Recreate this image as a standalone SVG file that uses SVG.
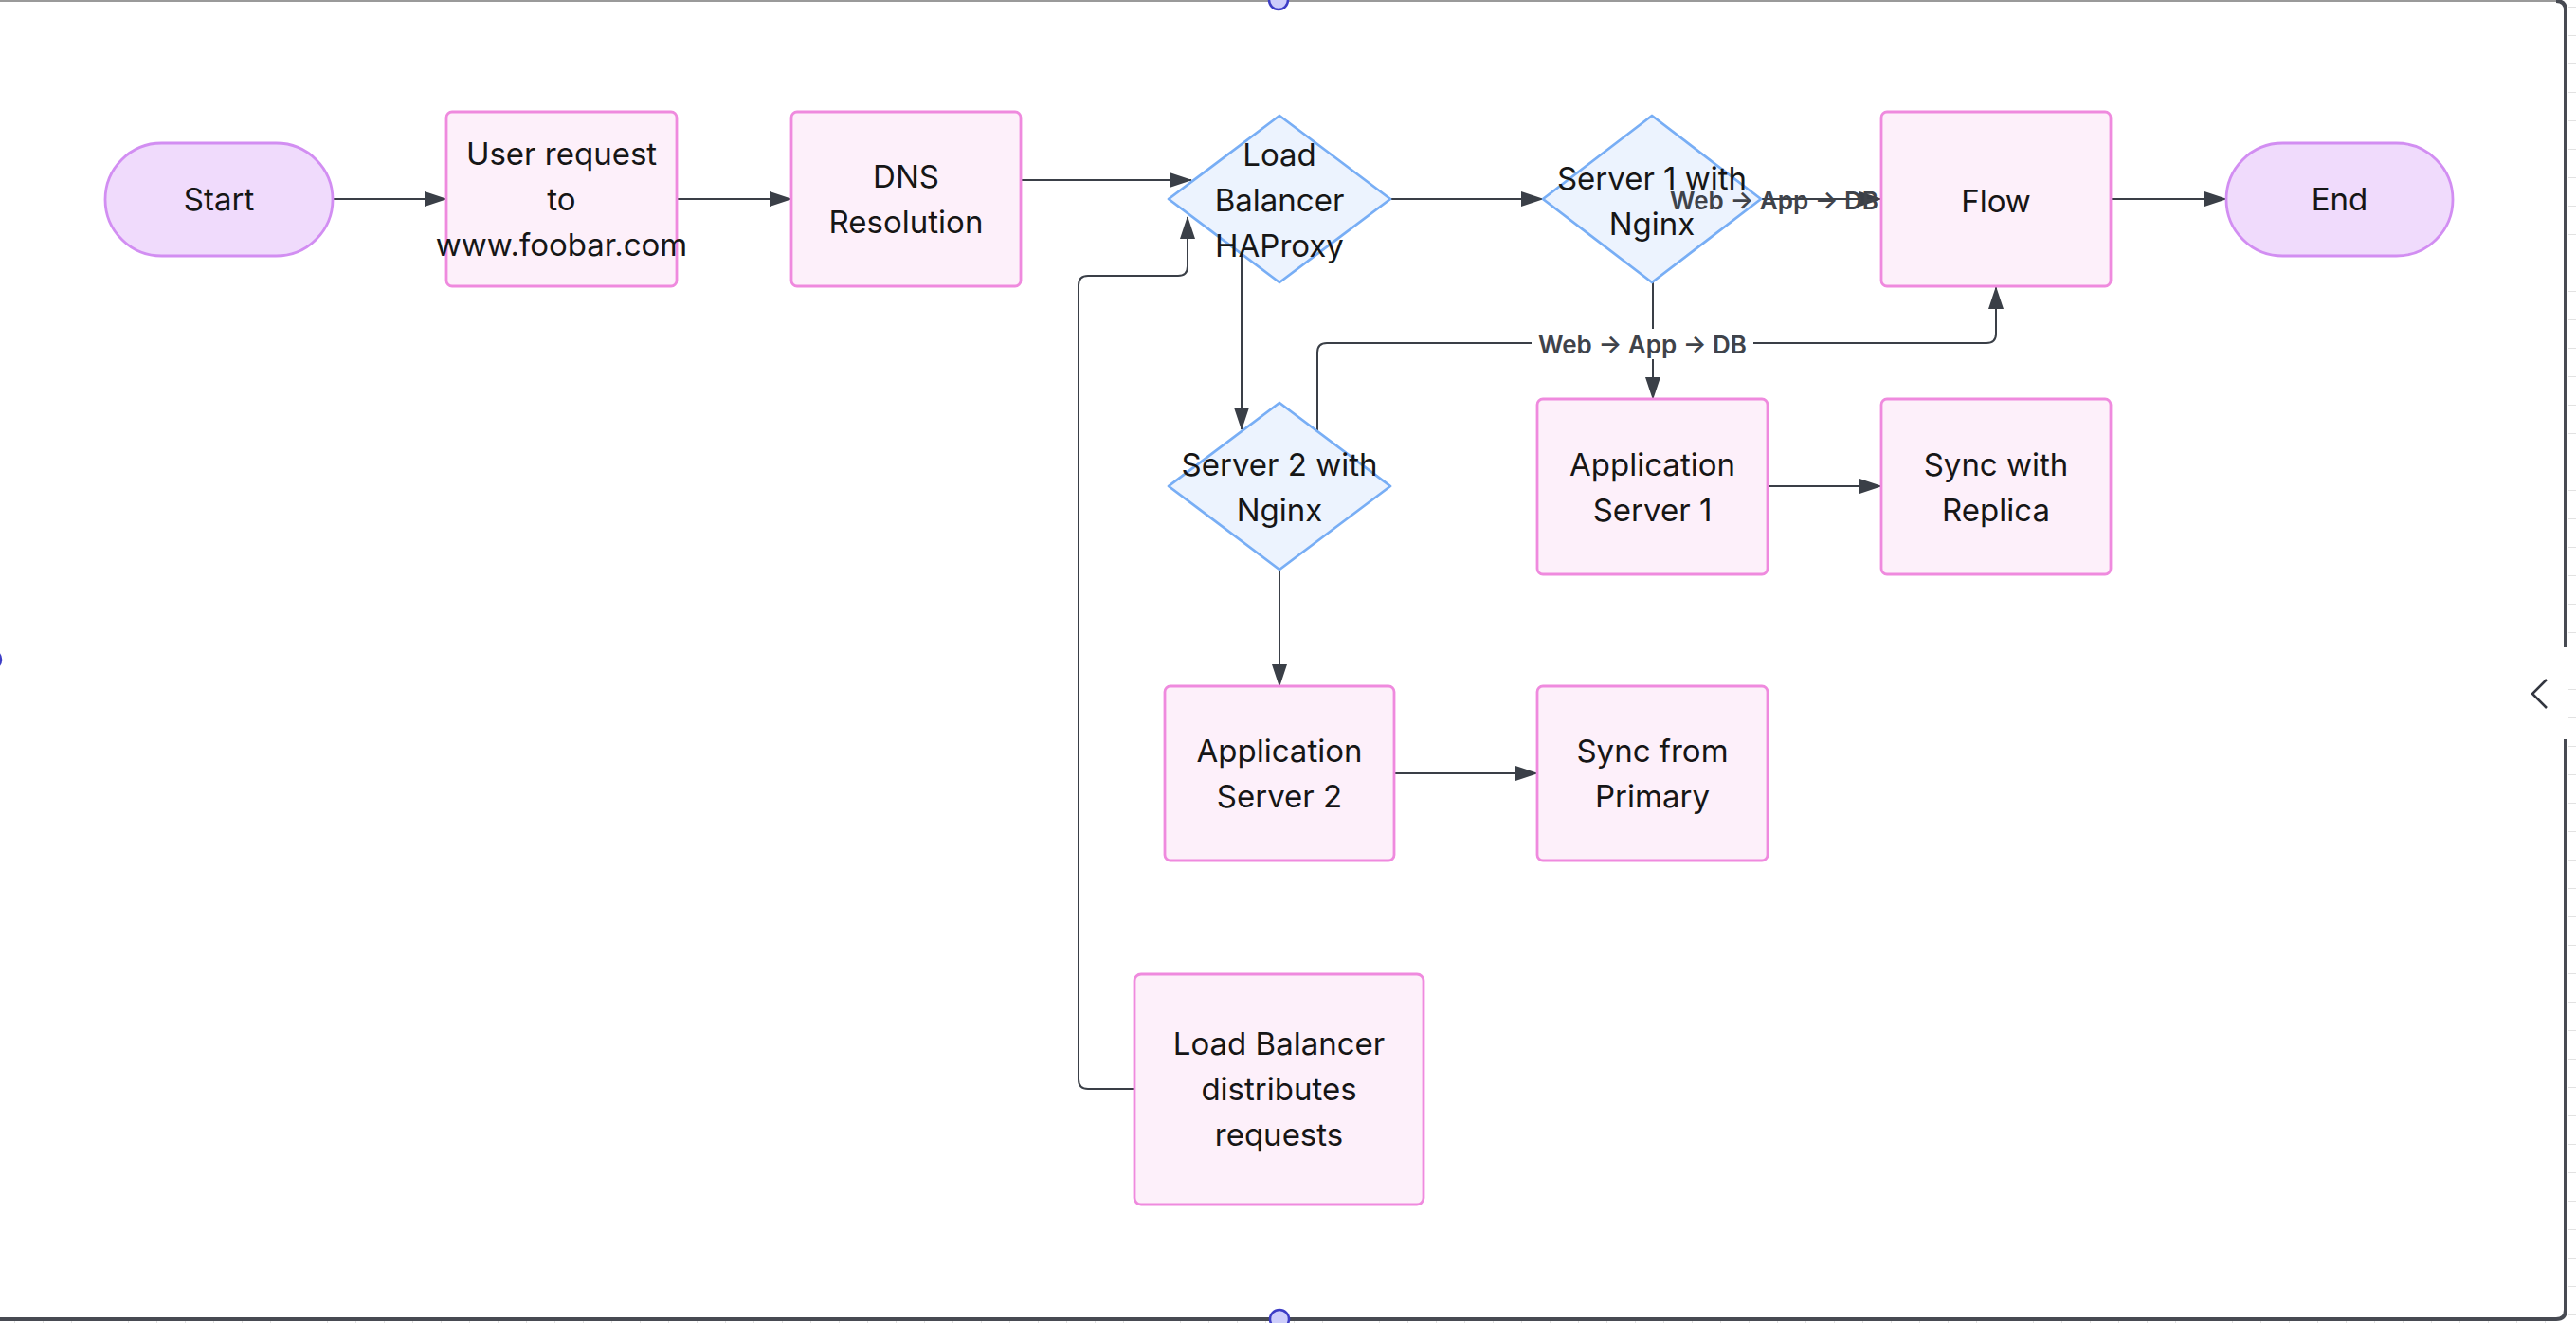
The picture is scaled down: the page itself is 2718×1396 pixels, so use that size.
<svg xmlns="http://www.w3.org/2000/svg" width="2718" height="1396" viewBox="0 0 2718 1396">
<defs>
<marker id="arr" markerUnits="userSpaceOnUse" markerWidth="24" markerHeight="16" viewBox="0 0 24 16" refX="23" refY="8" orient="auto"><path d="M0,0 L24,8 L0,16 z" fill="#3a3f47"/></marker>
<pattern id="tickR" x="0" y="7" width="8" height="30" patternUnits="userSpaceOnUse"><rect x="0" y="0" width="8" height="1" fill="#e2e2e2"/></pattern>
<pattern id="tickB" x="15" y="0" width="30" height="6" patternUnits="userSpaceOnUse"><rect x="0" y="0" width="1" height="6" fill="#e2e2e2"/></pattern>
</defs>
<style>
.term{fill:#f0dbfc;stroke:#d28ef2;stroke-width:2.8}
.box{fill:#fdf0fa;stroke:#ef8ade;stroke-width:2.8}
.dia{fill:#ecf3fe;stroke:#78aef5;stroke-width:2.8;stroke-linejoin:round}
.t{font-family:Inter,"Liberation Sans",sans-serif;font-size:33px;fill:#161616;text-anchor:middle;dominant-baseline:central}
.e{fill:none;stroke:#3a3f47;stroke-width:2}
.lbl{font-family:Inter,"Liberation Sans",sans-serif;font-size:26px;font-weight:600;fill:#3f434a;text-anchor:middle;dominant-baseline:central}
.frame{fill:none;stroke:#474a52;stroke-width:4}
.handle{fill:#cdcdfb;stroke:#3d3dc6;stroke-width:2.5}
</style>
<rect x="0" y="0" width="2718" height="1396" fill="#ffffff"/>
<rect x="2710" y="0" width="8" height="1390" fill="url(#tickR)"/>
<rect x="0" y="1393" width="2706" height="3" fill="url(#tickB)"/>
<g id="frame">
<path d="M0,1 H2697" stroke="#9a9a9a" stroke-width="2" fill="none"/>
<path class="frame" d="M2697,1 Q2707,1 2707,11 V683"/>
<path class="frame" d="M2707,780 V1382 Q2707,1392 2697,1392 H0"/>
<path d="M2687,717 L2672,732 L2687,747" fill="none" stroke="#333640" stroke-width="2.5"/>
<circle class="handle" cx="1349" cy="0" r="10"/>
<circle class="handle" cx="1350" cy="1392" r="10"/>
<circle class="handle" cx="-9" cy="696" r="10"/>
</g>
<g id="connectors">
<path class="e" d="M351,210 H471" marker-end="url(#arr)"/>
<path class="e" d="M714,210 H835" marker-end="url(#arr)"/>
<path class="e" d="M1077,190 H1257" marker-end="url(#arr)"/>
<path class="e" d="M1467,210 H1628" marker-end="url(#arr)"/>
<path class="e" d="M1858,210 H1985" marker-end="url(#arr)"/>
<path class="e" d="M2227,210 H2349" marker-end="url(#arr)"/>
<path class="e" d="M1310,269 V453" marker-end="url(#arr)"/>
<path class="e" d="M1390,455 V372 Q1390,362 1400,362 H2096 Q2106,362 2106,352 V303" marker-end="url(#arr)"/>
<path class="e" d="M1744,298 V421" marker-end="url(#arr)"/>
<path class="e" d="M1865,513 H1985" marker-end="url(#arr)"/>
<path class="e" d="M1350,601 V724" marker-end="url(#arr)"/>
<path class="e" d="M1471,816 H1622" marker-end="url(#arr)"/>
<path class="e" d="M1197,1149 H1148 Q1138,1149 1138,1139 V301 Q1138,291 1148,291 H1243 Q1253,291 1253,281 V229" marker-end="url(#arr)"/>
</g>
<g id="n-start"><rect class="term" x="111" y="151" width="240" height="119" rx="59.5"/><text class="t" x="231" y="210">Start</text></g>
<g id="n-user"><rect class="box" x="471" y="118" width="243" height="184" rx="6"/><text class="t" x="592.5" y="162">User request</text><text class="t" x="592.5" y="210">to</text><text class="t" x="592.5" y="258">www.foobar.com</text></g>
<g id="n-dns"><rect class="box" x="835" y="118" width="242" height="184" rx="6"/><text class="t" x="956" y="186">DNS</text><text class="t" x="956" y="234">Resolution</text></g>
<g id="n-lb"><polygon class="dia" points="1350,122 1467,210 1350,298 1233,210"/><text class="t" x="1350" y="163">Load</text><text class="t" x="1350" y="211">Balancer</text><text class="t" x="1350" y="259">HAProxy</text></g>
<g id="n-s1"><polygon class="dia" points="1743,122 1858,210 1743,298 1628,210"/><text class="t" x="1743" y="188">Server 1 with</text><text class="t" x="1743" y="236">Nginx</text></g>
<g id="n-flow"><rect class="box" x="1985" y="118" width="242" height="184" rx="6"/><text class="t" x="2106" y="212">Flow</text></g>
<g id="n-end"><rect class="term" x="2349" y="151" width="239" height="119" rx="59.5"/><text class="t" x="2468.5" y="210">End</text></g>
<g id="n-s2"><polygon class="dia" points="1350,425 1467,513 1350,601 1233,513"/><text class="t" x="1350" y="490">Server 2 with</text><text class="t" x="1350" y="538">Nginx</text></g>
<g id="n-app1"><rect class="box" x="1622" y="421" width="243" height="185" rx="6"/><text class="t" x="1743.5" y="489.5">Application</text><text class="t" x="1743.5" y="537.5">Server 1</text></g>
<g id="n-replica"><rect class="box" x="1985" y="421" width="242" height="185" rx="6"/><text class="t" x="2106" y="489.5">Sync with</text><text class="t" x="2106" y="537.5">Replica</text></g>
<g id="n-app2"><rect class="box" x="1229" y="724" width="242" height="184" rx="6"/><text class="t" x="1350" y="792">Application</text><text class="t" x="1350" y="840">Server 2</text></g>
<g id="n-primary"><rect class="box" x="1622" y="724" width="243" height="184" rx="6"/><text class="t" x="1743.5" y="792">Sync from</text><text class="t" x="1743.5" y="840">Primary</text></g>
<g id="n-lbdist"><rect class="box" x="1197" y="1028" width="305" height="243" rx="7"/><text class="t" x="1349.5" y="1101">Load Balancer</text><text class="t" x="1349.5" y="1149">distributes</text><text class="t" x="1349.5" y="1197">requests</text></g>
<g id="edge-labels">
<text class="lbl" x="1872" y="211">Web → App → DB</text>
<rect x="1616" y="347" width="234" height="32" fill="#ffffff"/>
<text class="lbl" x="1733" y="363">Web → App → DB</text>
</g>
</svg>
